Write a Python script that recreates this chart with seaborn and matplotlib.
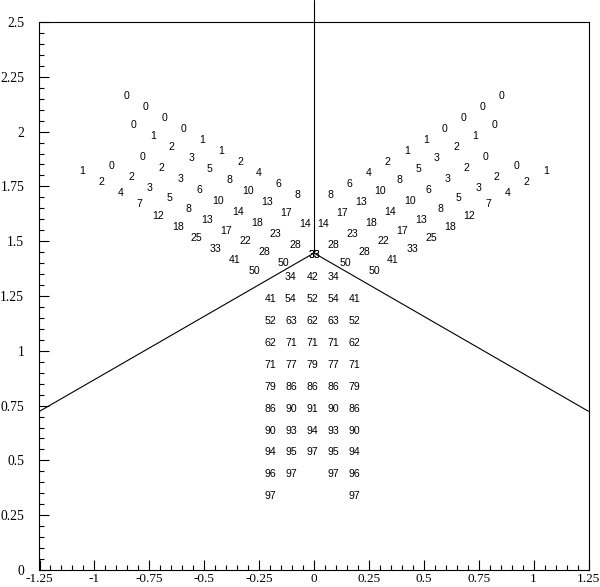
import matplotlib
matplotlib.use("Agg")
import matplotlib.pyplot as plt
import seaborn as sns
import numpy as np
import pandas as pd
from matplotlib.ticker import MultipleLocator, FixedLocator

# ---------------- data ----------------
# left wing: five rotated rows of labels (right wing is the mirror image)
wing_vals = [
    [0, 0, 0, 0, 1, 1, 2, 4, 6, 8],
    [0, 1, 2, 3, 5, 8, 10, 13, 17, 14],
    [0, 2, 3, 6, 10, 14, 18, 23, 28, 33],
    [0, 2, 3, 5, 8, 13, 17, 22, 28, 50],
    [1, 2, 4, 7, 12, 18, 25, 33, 41, 50],
]
wing_x = [
    [-0.856, -0.769, -0.683, -0.596, -0.510, -0.423, -0.336, -0.250, -0.163, -0.077],
    [-0.820, -0.733, -0.647, -0.560, -0.474, -0.387, -0.300, -0.214, -0.127, -0.041],
    [-0.783, -0.696, -0.609, -0.522, -0.435, -0.348, -0.261, -0.174, -0.087, 0.000],
    [-0.920, -0.833, -0.747, -0.660, -0.574, -0.487, -0.401, -0.314, -0.228, -0.141],
    [-1.056, -0.969, -0.882, -0.795, -0.708, -0.621, -0.534, -0.447, -0.360, -0.273],
]
wing_y = [
    [2.162, 2.112, 2.062, 2.012, 1.962, 1.912, 1.862, 1.812, 1.762, 1.712],
    [2.030, 1.980, 1.930, 1.880, 1.830, 1.780, 1.730, 1.680, 1.630, 1.580],
    [1.884, 1.834, 1.784, 1.734, 1.684, 1.634, 1.584, 1.534, 1.484, 1.437],
    [1.843, 1.793, 1.744, 1.695, 1.646, 1.597, 1.548, 1.499, 1.450, 1.401],
    [1.820, 1.770, 1.719, 1.668, 1.617, 1.567, 1.516, 1.465, 1.415, 1.364],
]

# central block
center_x = [-0.198, -0.105, -0.008, 0.090, 0.185]
center_y = [1.335, 1.235, 1.135, 1.035, 0.935, 0.835, 0.735, 0.635, 0.537, 0.437, 0.337]
center_vals = [
    [None, 34, 42, 34, None],
    [41, 54, 52, 54, 41],
    [52, 63, 62, 63, 52],
    [62, 71, 71, 71, 62],
    [71, 77, 79, 77, 71],
    [79, 86, 86, 86, 79],
    [86, 90, 91, 90, 86],
    [90, 93, 94, 93, 90],
    [94, 95, 97, 95, 94],
    [96, 97, None, 97, 96],
    [97, None, None, None, 97],
]

# boundary lines
vee_x = [-1.25, 0.0, 1.25]
vee_y = [0.724, 1.446, 0.724]
stem_x = [0.0, 0.0]
stem_y = [1.446, 2.60]

x_ticks = [-1.25, -1, -0.75, -0.5, -0.25, 0, 0.25, 0.5, 0.75, 1, 1.25]
x_ticklabels = ["-1.25", "-1", "-0.75", "-0.5", "-0.25", "0", "0.25", "0.5", "0.75", "1", "1.25"]
y_ticks = [0, 0.25, 0.5, 0.75, 1, 1.25, 1.5, 1.75, 2, 2.25, 2.5]
y_ticklabels = ["0", "0.25", "0.5", "0.75", "1", "1.25", "1.5", "1.75", "2", "2.25", "2.5"]

# ---------------- plot ----------------
sns.set_theme(style="white")
plt.rcParams["font.family"] = ["Liberation Sans", "DejaVu Sans"]

fig = plt.figure(figsize=(6.0, 5.87), dpi=100)
ax = fig.add_axes([39.5 / 600, 17 / 587, 549 / 600, 548 / 587])

vee = pd.DataFrame({"x": vee_x, "y": vee_y})
sns.lineplot(data=vee, x="x", y="y", sort=False, estimator=None,
             color="black", lw=0.8, ax=ax)
ax.plot(stem_x, stem_y, color="black", lw=0.8, clip_on=False)

fs = 7.6
for vals, xs, ys in zip(wing_vals, wing_x, wing_y):
    for v, x, y in zip(vals, xs, ys):
        ax.text(x, y, str(v), ha="center", va="center", fontsize=fs, color="black")
        ax.text(-x, y, str(v), ha="center", va="center", fontsize=fs, color="black")

for row, y in zip(center_vals, center_y):
    for v, x in zip(row, center_x):
        if v is not None:
            ax.text(x, y, str(v), ha="center", va="center", fontsize=fs, color="black")

ax.set_xlim(-1.25, 1.25)
ax.set_ylim(0, 2.5)
ax.set_xlabel("")
ax.set_ylabel("")

ax.xaxis.set_major_locator(FixedLocator(x_ticks))
ax.yaxis.set_major_locator(FixedLocator(y_ticks))
ax.set_xticklabels(x_ticklabels, family=["Liberation Serif"], fontsize=9.5)
ax.set_yticklabels(y_ticklabels, family=["Liberation Serif"], fontsize=9.8)
ax.xaxis.set_minor_locator(MultipleLocator(0.05))
ax.yaxis.set_minor_locator(MultipleLocator(0.05))

ax.tick_params(which="both", direction="in", color="black", width=0.8,
               top=False, right=False, bottom=True, left=True, labelcolor="black")
ax.tick_params(which="major", length=7.2)
ax.tick_params(which="minor", length=3.6)
ax.tick_params(axis="x", which="major", pad=2.0)
ax.tick_params(axis="y", which="major", pad=11)

for s in ax.spines.values():
    s.set_visible(True)
    s.set_color("black")
    s.set_linewidth(0.8)

ax.set_facecolor("white")
fig.patch.set_facecolor("white")
fig.savefig("out.png", dpi=100, facecolor="white")
